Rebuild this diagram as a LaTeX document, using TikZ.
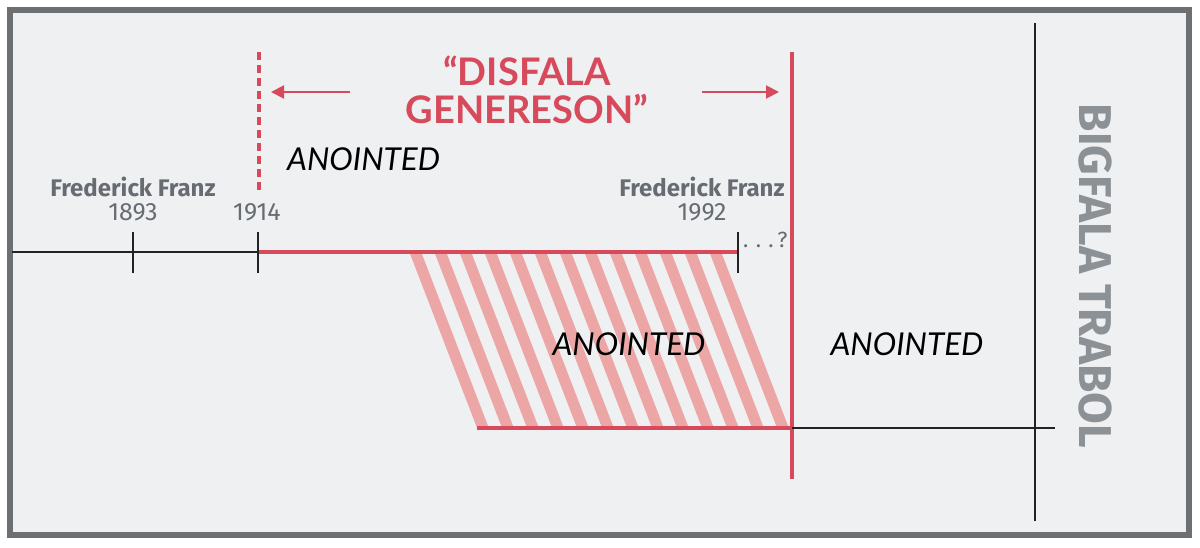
\documentclass[tikz,border=0pt]{standalone}
\usepackage{fontspec}
\setmainfont{Fira Sans}
\newfontfamily\latofont{Lato}
\usetikzlibrary{arrows.meta}
\definecolor{framegray}{HTML}{6D7072}
\definecolor{bgray}{HTML}{EFF0F2}
\definecolor{redc}{HTML}{D64A5B}
\definecolor{stripec}{HTML}{ECA6A6}
\definecolor{txtgray}{HTML}{676C73}
\definecolor{biggray}{HTML}{8C9196}
\definecolor{blk}{HTML}{222222}
\tikzset{
  blkline/.style={draw=blk, line width=2.5pt},
  redline/.style={draw=redc, line width=4pt},
  redarrow/.style={draw=redc, line width=2pt, -{Triangle[length=13pt,width=13pt]}},
  anointed/.style={font=\latofont\itshape\fontsize{31.5}{34}\selectfont, text=black, inner sep=0pt},
  ffname/.style={font=\bfseries\fontsize{24}{28}\selectfont, text=txtgray, inner sep=0pt},
  yearlbl/.style={font=\fontsize{25}{28}\selectfont, text=txtgray, inner sep=0pt},
  titlelbl/.style={font=\latofont\bfseries\fontsize{38}{38}\selectfont, text=redc, align=center, inner sep=0pt},
}
\begin{document}
\begin{tikzpicture}[x=1pt,y=-1pt]
\useasboundingbox (0,0) rectangle (1200,547);
\fill[white] (0,0) rectangle (1200,547);
\draw[framegray, line width=6pt, fill=bgray] (10,10) rectangle (1189,535);

% hatched parallelogram
\begin{scope}
  \clip (410,254) -- (723,254) -- (792,428) -- (477,428) -- cycle;
  \foreach \k in {0,...,14}
    \draw[stripec, line width=11pt] ({414.5+25*\k},250) -- ({414.5+25*\k+70},432);
\end{scope}

% coordinates
\coordinate (L0) at (12,252);
\coordinate (t1893) at (133,252);
\coordinate (t1914) at (258,252);
\coordinate (t1992) at (738,252);
\coordinate (dashtop) at (259,52);
\coordinate (dashbot) at (259,191);
\coordinate (rtop) at (792,52);
\coordinate (rbot) at (792,479);
\coordinate (rcross) at (792,428);
\coordinate (hl) at (477,428);
\coordinate (hr) at (1055,428);
\coordinate (btop) at (1035,23);
\coordinate (bbot) at (1035,521);
\coordinate (al1) at (350,92);
\coordinate (al2) at (271,92);
\coordinate (ar1) at (702,92);
\coordinate (ar2) at (779,92);

% top timeline
\draw[blkline] (L0) -- (t1914);
\draw[redline] (t1914) -- (t1992);
\draw[blkline] ([yshift=20pt]t1893) -- ([yshift=-21pt]t1893);
\draw[blkline] ([yshift=20pt]t1914) -- ([yshift=-21pt]t1914);
\draw[blkline] ([yshift=20pt]t1992) -- ([yshift=-21pt]t1992);

% verticals
\draw[redc, line width=4pt, dash pattern=on 8pt off 5pt] (dashtop) -- (dashbot);
\draw[redline] (rtop) -- (rbot);
\draw[blkline] (btop) -- (bbot);

% bottom timeline
\draw[redline] (hl) -- (rcross);
\draw[blkline] (rcross) -- (hr);

% arrows
\draw[redarrow] (al1) -- (al2);
\draw[redarrow] (ar1) -- (ar2);

% texts
\node[titlelbl] (title) at (527,90) {“DISFALA\\[0pt]GENERESON”};
\node[anointed, anchor=west] (an1) at (287,159) {ANOINTED};
\node[anointed] (an2) at (629,344) {ANOINTED};
\node[anointed] (an3) at (907,344) {ANOINTED};
\node[ffname] (ff1) at (133,187) {Frederick Franz};
\node[yearlbl] (y1893) at (133,212) {1893};
\node[yearlbl] (y1914) at (257,212) {1914};
\node[ffname] (ff2) at (702,187) {Frederick Franz};
\node[yearlbl] (y1992) at (702,212) {1992};
\node[font=\fontsize{22}{24}\selectfont, text=txtgray, inner sep=0pt, anchor=west] (q) at (743,240) {.\,\,.\,\,.\,?};
\node[font=\bfseries\fontsize{46}{50}\selectfont, text=biggray, rotate=-90, inner sep=0pt] (big) at (1095,276) {BIGFALA TRABOL};
\end{tikzpicture}
\end{document}
